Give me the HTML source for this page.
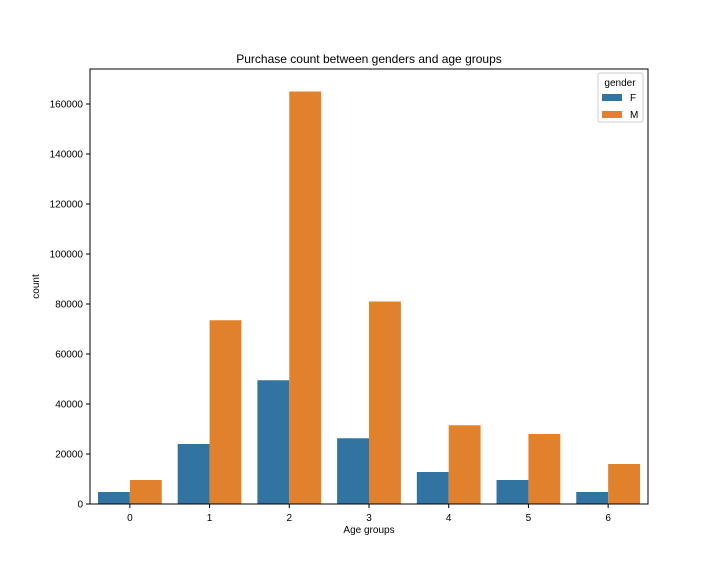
<!DOCTYPE html>
<html><head><style>
body{margin:0;background:#fff;}
svg text{font-family:"Liberation Sans","DejaVu Sans",sans-serif;}
</style></head><body>
<svg id="chart" width="720" height="576"></svg>
<script>
const categories=["0","1","2","3","4","5","6"];
const femaleCounts=[4800,24000,49500,26300,12800,9600,4800];
const maleCounts=[9600,73500,165000,81000,31500,28000,16000];
const yTicks=[0,20000,40000,60000,80000,100000,120000,140000,160000];
const NS="http://www.w3.org/2000/svg";
const svg=document.getElementById('chart');
const L=90,R=648,T=69,B=504,yMax=174000;
const xs=i=>L+(i+0.5)*(R-L)/categories.length;
const ys=v=>B-v/yMax*(B-T);
const bw=(R-L)/categories.length*0.4;
function mk(tag,attrs,txt){const e=document.createElementNS(NS,tag);for(const k in attrs)e.setAttribute(k,attrs[k]);if(txt!==undefined)e.textContent=txt;svg.appendChild(e);return e;}
categories.forEach((c,i)=>{
 let f=mk('rect',{x:xs(i)-bw,y:ys(femaleCounts[i]),width:bw,height:B-ys(femaleCounts[i]),fill:'#3274a1'});
 
 
 let m=mk('rect',{x:xs(i),y:ys(maleCounts[i]),width:bw,height:B-ys(maleCounts[i]),fill:'#e1812c'});
 
 
 let t=mk('line',{x1:xs(i),x2:xs(i),y1:B,y2:B+4,stroke:'#000'});
 
 
 let l=mk('text',{x:xs(i),y:B+17,'font-size':10,'text-anchor':'middle'},c);
 
 
});
yTicks.forEach(v=>{
 let t=mk('line',{x1:L-4,x2:L,y1:ys(v),y2:ys(v),stroke:'#000'});
 
 
 let l=mk('text',{x:L-7,y:ys(v)+3.5,'font-size':10,'text-anchor':'end'},v);
 
 
});
let frame=mk('rect',{x:L,y:T,width:R-L,height:B-T,fill:'none',stroke:'#000','stroke-width':1});


let ti=mk('text',{x:(L+R)/2,y:63,'font-size':12,'text-anchor':'middle'},'Purchase count between genders and age groups');


let xt=mk('text',{x:(L+R)/2,y:533,'font-size':10,'text-anchor':'middle'},'Age groups');


let yt=mk('text',{x:39,y:(T+B)/2,'font-size':10,'text-anchor':'middle',transform:'rotate(-90 39 '+(T+B)/2+')'},'count');


let lg=mk('rect',{x:598,y:73,width:45,height:49,fill:'#fff',stroke:'#ccc',rx:2});


let lt=mk('text',{x:620,y:86,'font-size':10,'text-anchor':'middle'},'gender');


[['F','#3274a1',97],['M','#e1812c',114]].forEach(([n,c,y])=>{
 let s=mk('rect',{x:602,y:y-3,width:20,height:7,fill:c});
 
 
 let t=mk('text',{x:630,y:y+4,'font-size':10},n);
 
 
});
</script>
</body></html>
